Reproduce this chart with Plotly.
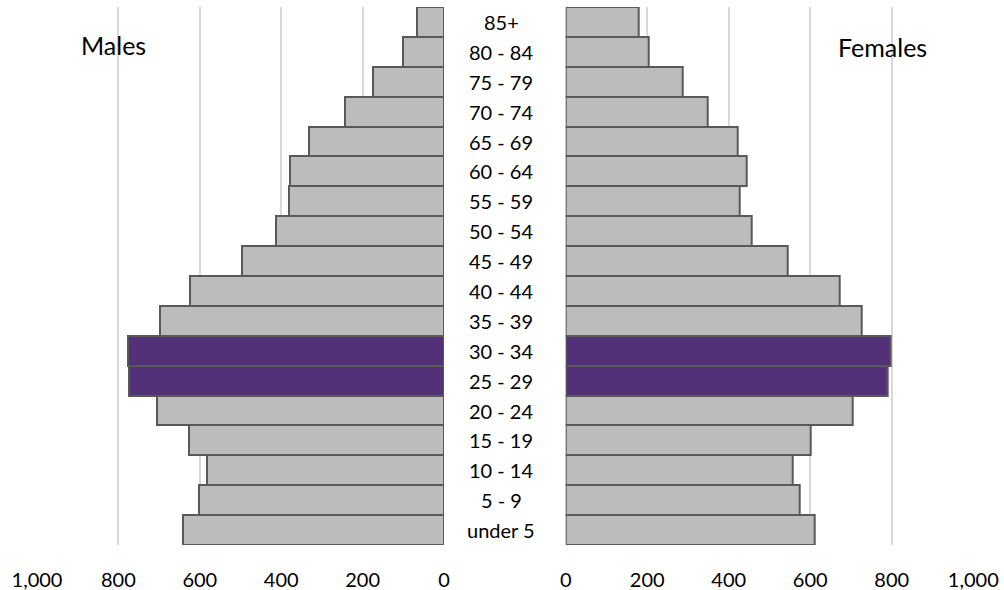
import plotly.graph_objects as go

ages = ["under 5", "5 - 9", "10 - 14", "15 - 19", "20 - 24", "25 - 29", "30 - 34",
        "35 - 39", "40 - 44", "45 - 49", "50 - 54", "55 - 59", "60 - 64",
        "65 - 69", "70 - 74", "75 - 79", "80 - 84", "85+"]
males = [642, 603, 583, 626, 706, 774, 776, 698, 625, 496, 413, 382, 378, 331, 243, 174, 100, 66]
females = [611, 574, 556, 602, 703, 790, 797, 727, 671, 545, 457, 428, 445, 423, 348, 287, 203, 180]
highlight = ["25 - 29", "30 - 34"]
tick_vals = [0, 200, 400, 600, 800, 1000]
tick_text = ["0", "200", "400", "600", "800", "1,000"]

GREY = "#BBBCBB"
PURPLE = "#523178"
EDGE = "#595959"
colors = [PURPLE if a in highlight else GREY for a in ages]
FONT = "Lato"

fig = go.Figure()
fig.add_trace(go.Bar(x=males, y=ages, orientation="h", xaxis="x", yaxis="y",
                     marker=dict(color=colors, line=dict(color=EDGE, width=2)),
                     showlegend=False))
fig.add_trace(go.Bar(x=females, y=ages, orientation="h", xaxis="x2", yaxis="y",
                     marker=dict(color=colors, line=dict(color=EDGE, width=2)),
                     showlegend=False))

W = 1004
axis_common = dict(tickvals=tick_vals, ticktext=tick_text, showgrid=True,
                   gridcolor="#D9D9D9", gridwidth=1.5, zeroline=False, showline=False,
                   ticks="", tickfont=dict(family=FONT, size=20, color="#000000"),
                   ticklabelstandoff=21, fixedrange=True, automargin=False)
fig.update_layout(
    width=W, height=590,
    margin=dict(l=0, r=0, t=7, b=45),
    paper_bgcolor="white", plot_bgcolor="white",
    bargap=0,
    xaxis=dict(domain=[37 / W, 444 / W], range=[1000, 0], anchor="y", **axis_common),
    xaxis2=dict(domain=[565.7 / W, 973.3 / W], range=[0, 1000], anchor="y", **axis_common),
    yaxis=dict(type="category", categoryorder="array", categoryarray=ages,
               showticklabels=False, showgrid=False, zeroline=False, showline=False,
               ticks="", range=[-0.5, len(ages) - 0.5], automargin=False),
)

for a in ages:
    fig.add_annotation(x=501 / W, xref="paper", y=a, yref="y", text=a,
                       showarrow=False, xanchor="center", yanchor="middle",
                       font=dict(family=FONT, size=20, color="#000000"))

fig.add_annotation(x=113 / W, xref="paper", y=1 - 41 / 583, yref="paper", text="Males",
                   showarrow=False, xanchor="center", yanchor="middle",
                   font=dict(family=FONT, size=25, color="#000000"))
fig.add_annotation(x=882 / W, xref="paper", y=1 - 43 / 583, yref="paper", text="Females",
                   showarrow=False, xanchor="center", yanchor="middle",
                   font=dict(family=FONT, size=25, color="#000000"))

fig.write_html("out.html")
